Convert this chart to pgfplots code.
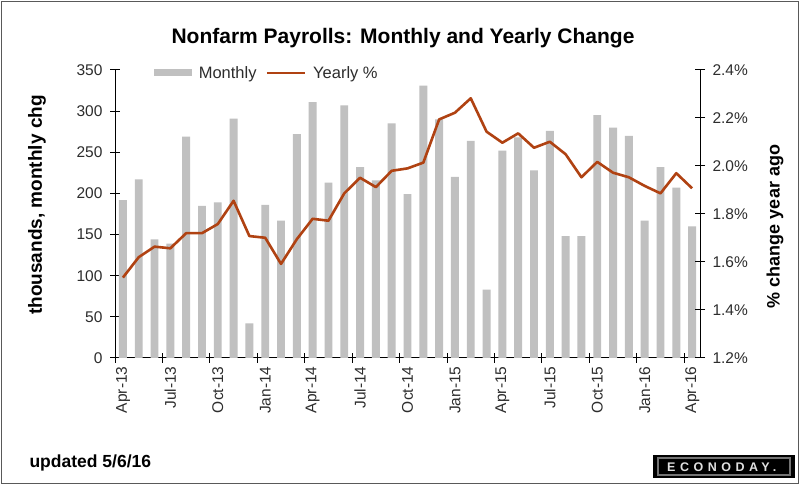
\documentclass[border=0pt]{standalone}
\usepackage{pgfplots}
\pgfplotsset{compat=1.18}
\usepackage{pgfplotstable}
\usepackage{fontspec}
\setmainfont{Liberation Sans}
\definecolor{barGray}{RGB}{192,192,192}
\definecolor{lineBrown}{RGB}{176,66,18}
\definecolor{txt}{RGB}{45,45,45}
\pgfplotsset{/pgf/number format/assume math mode=true}

\pgfplotstableread{
idx monthly yearly
0 192 1.535
1 217 1.620
2 144 1.664
3 139 1.657
4 269 1.720
5 185 1.720
6 189 1.758
7 291 1.855
8 42 1.708
9 186 1.701
10 167 1.592
11 272 1.695
12 311 1.780
13 213 1.772
14 307 1.886
15 232 1.951
16 216 1.912
17 285 1.980
18 199 1.990
19 331 2.014
20 290 2.194
21 220 2.222
22 264 2.282
23 83 2.143
24 252 2.097
25 268 2.136
26 228 2.076
27 276 2.101
28 148 2.049
29 148 1.953
30 295 2.017
31 280 1.972
32 270 1.953
33 167 1.917
34 232 1.886
35 207 1.970
36 160 1.907
}\datatable

\pgfplotsset{
  base/.style={
    at={(115bp,127bp)}, anchor=south west,
    width=585bp, height=288bp, scale only axis,
    xmin=-0.5, xmax=36.5,
    tick align=center, major tick length=10bp,
    axis line style={black, line width=1bp},
    tick style={black, line width=1bp},
    ticklabel style={font=\fontsize{15.5bp}{17bp}\selectfont, text=txt},
  },
}

\begin{document}
\begin{tikzpicture}
\begin{scope}[x=1bp,y=1bp]
\useasboundingbox (0,0) rectangle (805,485);
\fill[white] (0,0) rectangle (805,485);
\draw[black!65, line width=1.5bp] (1.5,1.5) rectangle (798.5,483.5);
\end{scope}

\begin{axis}[base,
  ymin=0, ymax=350, ytick={0,50,...,350},
  axis y line*=left, axis x line*=bottom,
  xtick={-0.5,2.5,5.5,8.5,11.5,14.5,17.5,20.5,23.5,26.5,29.5,32.5,35.5},
  xticklabels={Apr-13,Jul-13,Oct-13,Jan-14,Apr-14,Jul-14,Oct-14,Jan-15,Apr-15,Jul-15,Oct-15,Jan-16,Apr-16},
  x tick label style={xshift=8bp, rotate=90, anchor=east},
  y tick label style={xshift=-4bp},
  legend style={at={(0.066,1.021)}, anchor=north west, draw=none, fill=none,
    inner sep=0pt, legend columns=2,
    font=\fontsize{16.5bp}{18bp}\selectfont, text=txt,
    /tikz/every odd column/.append style={column sep=5bp},
    /tikz/every even column/.append style={column sep=7bp}},
]
\addplot[ybar, bar width=0.5, fill=barGray, draw=none,
  legend image code/.code={\fill[barGray] (0bp,-3.5bp) rectangle (38bp,3.5bp);}]
  table[x=idx, y=monthly]{\datatable};
\addlegendentry{Monthly}
\addlegendimage{legend image code/.code={\draw[lineBrown, line width=2.6bp] (0bp,0bp) -- (38bp,0bp);}}
\addlegendentry{Yearly \%}
\end{axis}

\begin{axis}[base,
  ymin=1.2, ymax=2.4, ytick={1.2,1.4,...,2.4},
  axis y line*=right, axis x line=none,
  yticklabel={\pgfmathprintnumber[fixed,fixed zerofill,precision=1]{\tick}\%},
  y tick label style={xshift=4bp},
]
\addplot[lineBrown, line width=2.6bp, mark=none, line join=round]
  table[x=idx, y=yearly]{\datatable};
\end{axis}

\begin{scope}[x=1bp,y=1bp]
\node[font=\fontsize{21bp}{24bp}\selectfont\bfseries, text=black] at (403,446.5) {Nonfarm Payrolls: Monthly and Yearly Change};
\node[rotate=90, font=\fontsize{19bp}{21bp}\selectfont\bfseries, text=black] at (37,280) {thousands, monthly chg};
\node[rotate=90, font=\fontsize{18bp}{20bp}\selectfont\bfseries, text=black] at (775,258.5) {\% change year ago};
\node[anchor=west, font=\fontsize{17.5bp}{20bp}\selectfont\bfseries, text=black] at (26,22) {updated 5/6/16};
\fill[black] (653,7) rectangle (795,30);
\draw[black!55, line width=1.2bp] (658,10) rectangle (790,27);
\node[text=black!12, anchor=west, inner sep=0pt, font=\fontsize{12.5bp}{14bp}\selectfont\bfseries\addfontfeatures{LetterSpace=36}] at (667,18) {ECONODAY.};
\end{scope}
\end{tikzpicture}
\end{document}
